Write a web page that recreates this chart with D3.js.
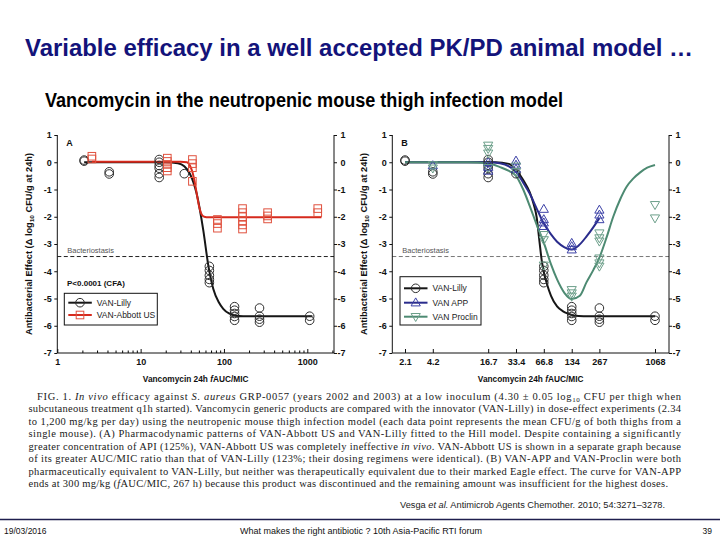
<!DOCTYPE html>
<html><head><meta charset="utf-8">
<script src="https://cdn.jsdelivr.net/npm/d3@7"></script>
<style>body{margin:0;background:#fff}svg{display:block}</style>
</head><body><svg id="c" width="720" height="540"></svg>
<script>
// ---------------- DATA ----------------
const titleText = "Variable efficacy in a well accepted PK/PD animal model …";
const subtitleText = "Vancomycin in the neutropenic  mouse thigh infection model";
const yTicks = [-7, -6, -5, -4, -3, -2, -1, 0, 1];
const xTicksA = [1, 10, 100, 1000];
const xMinorA = [2,3,4,5,6,7,8,9,20,30,40,50,60,70,80,90,200,300,400,500,600,700,800,900,2000];
const xTicksB = [2.1, 4.2, 16.7, 33.4, 66.8, 134, 267, 1068];
const xLabelsB = ["2.1", "4.2", "16.7", "33.4", "66.8", "134", "267", "1068"];
const bacteriostasis = -3.46;

// observed points [fAUC/MIC, effect]
const lillyPts = [[2.1,0.08],[2.1,0.04],[4.2,-0.35],[4.2,-0.43],[16.7,0.1],[16.7,0.0],[16.7,-0.12],[16.7,-0.22],[16.7,-0.42],[16.7,-0.56],[33.4,-0.42],[66.8,-3.82],[66.8,-3.97],[66.8,-4.15],[66.8,-4.3],[66.8,-4.42],[134,-5.3],[134,-5.43],[134,-5.55],[134,-5.66],[134,-5.8],[267,-5.35],[267,-5.65],[267,-5.76],[267,-5.87],[1068,-5.65],[1068,-5.8]];
const abbottPts = [[2.6,0.22],[2.6,0.12],[20.9,0.15],[20.9,0.03],[20.9,-0.08],[20.9,-0.2],[20.9,-0.32],[41.8,0.1],[41.8,-0.05],[41.8,-0.2],[41.8,-0.7],[83.5,-2.1],[83.5,-2.25],[83.5,-2.42],[167,-1.7],[167,-1.85],[167,-2.0],[167,-2.15],[167,-2.3],[167,-2.45],[334,-1.85],[334,-1.97],[334,-2.08],[1335,-1.7],[1335,-1.85]];
const appPts = [[4.2,-0.12],[16.7,0.0],[16.7,-0.18],[16.7,-0.32],[33.4,0.05],[33.4,-0.1],[33.4,-0.25],[66.8,-1.72],[66.8,-2.1],[66.8,-2.22],[66.8,-2.35],[134,-2.97],[134,-3.09],[134,-3.21],[267,-1.75],[267,-1.93],[267,-2.1]];
const proclinPts = [[4.2,-0.1],[4.2,-0.22],[16.7,0.62],[16.7,0.5],[16.7,0.33],[16.7,-0.2],[33.4,-0.15],[33.4,-0.35],[66.8,-2.66],[66.8,-2.85],[66.8,-3.78],[134,-4.68],[134,-4.8],[134,-4.92],[267,-2.6],[267,-2.78],[267,-2.9],[267,-3.52],[267,-3.7],[267,-3.82],[1068,-1.56],[1068,-2.05]];

// fitted curves
const lillyCurveA = [[2.1,0],[20,0],[28,-0.04],[33.4,-0.15],[39,-0.42],[47,-1.15],[56.5,-2.5],[65,-3.8],[74.5,-4.65],[87,-5.15],[98,-5.38],[115,-5.55],[134,-5.62],[170,-5.65],[1150,-5.65]];
const abbottCurve = [[2.6,0.02],[30,0.02],[36,0],[39,-0.12],[42,-0.38],[45,-0.8],[48,-1.3],[51,-1.7],[54,-1.92],[58,-2.0],[65,-2.02],[1480,-2.02]];
const lillyCurveB = [[2.1,0],[20,0],[28,-0.06],[33.4,-0.28],[40,-0.65],[47,-1.1],[52,-1.55],[55.8,-2.0],[59.5,-2.8],[63.3,-3.58],[67.5,-4.1],[71.7,-4.43],[80,-4.9],[93,-5.29],[108,-5.47],[121,-5.55],[140,-5.62],[180,-5.65],[1068,-5.65]];
const appCurve = [[2.1,0],[16.7,0],[22.4,-0.04],[28,-0.15],[33.4,-0.35],[40,-0.75],[47,-1.15],[56,-1.7],[66.8,-2.25],[80,-2.65],[93,-2.92],[112,-3.12],[134,-3.2],[160,-3.05],[194,-2.72],[230,-2.38],[267,-2.05]];
const proclinCurve = [[2.1,0],[10,0],[16.7,-0.04],[22.4,-0.18],[28,-0.32],[33.4,-0.5],[40,-1.0],[47,-1.6],[56,-2.3],[66.8,-2.95],[80,-3.75],[93,-4.3],[112,-4.8],[134,-5.02],[164,-4.9],[194,-4.4],[230,-3.95],[267,-3.5],[320,-2.75],[377,-2.0],[450,-1.35],[526,-0.9],[620,-0.6],[733,-0.38],[880,-0.2],[1068,-0.1]];

const captionLines = [
  [["FIG. 1. ",""],["In vivo","i"],[" efficacy against ",""],["S. aureus","i"],[" GRP-0057 (years 2002 and 2003) at a low inoculum (4.30 ± 0.05 log",""],["10","s"],[" CFU per thigh when",""]],
  [["subcutaneous treatment q1h started). Vancomycin generic products are compared with the innovator (VAN-Lilly) in dose-effect experiments (2.34",""]],
  [["to 1,200 mg/kg per day) using the neutropenic mouse thigh infection model (each data point represents the mean CFU/g of both thighs from a",""]],
  [["single mouse). (A) Pharmacodynamic patterns of VAN-Abbott US and VAN-Lilly fitted to the Hill model. Despite containing a significantly",""]],
  [["greater concentration of API (125%), VAN-Abbott US was completely ineffective ",""],["in vivo","i"],[". VAN-Abbott US is shown in a separate graph because",""]],
  [["of its greater AUC/MIC ratio than that of VAN-Lilly (123%; their dosing regimens were identical). (B) VAN-APP and VAN-Proclin were both",""]],
  [["pharmaceutically equivalent to VAN-Lilly, but neither was therapeutically equivalent due to their marked Eagle effect. The curve for VAN-APP",""]],
  [["ends at 300 mg/kg (",""],["f","i"],["AUC/MIC, 267 h) because this product was discontinued and the remaining amount was insufficient for the highest doses.",""]]
];

// ---------------- DRAW ----------------
const svg = d3.select("#c");
const SANS = "'Liberation Sans', Arial, Helvetica, sans-serif";
const SERIF = "'Liberation Serif', 'Times New Roman', serif";
const col = {lilly:"#161616", lillyM:"#2e2e2e", abbott:"#d62a1d", abbottM:"#e0523f", app:"#2a2c8c", appM:"#3b40a6", proclin:"#4d8a72", proclinM:"#6c9f8a"};

svg.append("text").attr("x",359).attr("y",56).attr("text-anchor","middle")
  .attr("textLength",668).attr("lengthAdjust","spacingAndGlyphs")
  .style("font","bold 24px " + SANS).attr("fill","#13137a").text(titleText);
svg.append("text").attr("x",45).attr("y",106.5)
  .attr("textLength",518).attr("lengthAdjust","spacingAndGlyphs")
  .style("font","bold 20px 'Liberation Sans Narrow', 'Arial Narrow', " + SANS).attr("fill","#000").text(subtitleText);

const y = d3.scaleLinear().domain([-7,1]).range([353,135]);

function marker(sel, type, color) {
  if (type === "circle") {
    sel.append("circle").attr("r",4.3).attr("fill","none").attr("stroke",color).attr("stroke-width",1);
  } else if (type === "square") {
    sel.append("rect").attr("x",-3.8).attr("y",-3.8).attr("width",7.6).attr("height",7.6).attr("fill","none").attr("stroke",color).attr("stroke-width",1);
  } else if (type === "up") {
    sel.append("path").attr("d","M0,-4.8L4.6,3.2L-4.6,3.2Z").attr("fill","none").attr("stroke",color).attr("stroke-width",1);
  } else {
    sel.append("path").attr("d","M0,4.8L4.6,-3.2L-4.6,-3.2Z").attr("fill","none").attr("stroke",color).attr("stroke-width",1);
  }
}

function panel(o) {
  const g = svg.append("g");
  const x = o.x;
  // bacteriostasis line
  g.append("line").attr("x1",o.left).attr("x2",o.right).attr("y1",y(bacteriostasis)).attr("y2",y(bacteriostasis))
    .attr("stroke",o.dash).attr("stroke-width",1).attr("stroke-dasharray","4,2.5");
  g.append("text").attr("x",o.left+10).attr("y",y(bacteriostasis)-3.5).attr("fill","#555")
    .style("font","7.5px " + SANS).text("Bacteriostasis");
  // axes
  const fmt = d => String(d);
  const ax = g.append("g").attr("transform",`translate(${o.left},0)`)
    .call(d3.axisLeft(y).tickValues(yTicks).tickSize(3).tickSizeOuter(0).tickPadding(2.5).tickFormat(fmt));
  const axr = g.append("g").attr("transform",`translate(${o.right},0)`)
    .call(d3.axisRight(y).tickValues(yTicks).tickSize(3).tickSizeOuter(0).tickPadding(2.5).tickFormat(fmt));
  axr.selectAll("text").attr("text-anchor","end").attr("x",11.5);
  const bx = g.append("g").attr("transform","translate(0,353)")
    .call(d3.axisBottom(x).tickValues(o.xTicks).tickSizeInner(-4).tickSizeOuter(0).tickPadding(6).tickFormat((d,i)=>o.xLabels[i]));
  if (o.minor) {
    g.append("g").attr("transform","translate(0,353)")
      .call(d3.axisBottom(x).tickValues(o.minor).tickSizeInner(-2.5).tickSizeOuter(0).tickFormat(""))
      .select(".domain").remove();
  }
  [ax, axr, bx].forEach(a => {
    a.select(".domain").remove();
    a.selectAll("line").attr("stroke","#111");
    a.selectAll("text").attr("fill","#111").style("font","bold 9px " + SANS);
  });
  g.append("path").attr("d",`M${o.left},135V353H${o.right}V135`).attr("fill","none").attr("stroke","#111").attr("stroke-width",1);
  // axis titles
  const yt = g.append("text").attr("transform",`translate(${o.ytx},244) rotate(-90)`).attr("text-anchor","middle")
    .attr("textLength",182).attr("lengthAdjust","spacingAndGlyphs")
    .style("font","bold 8.5px " + SANS).attr("fill","#111");
  yt.append("tspan").text("Antibacterial Effect (Δ log");
  yt.append("tspan").attr("dy",2).style("font-size","6px").text("10");
  yt.append("tspan").attr("dy",-2).text(" CFU/g at 24h)");
  const xt = g.append("text").attr("x",(o.left+o.right)/2).attr("y",382).attr("text-anchor","middle")
    .style("font","bold 8.3px " + SANS).attr("fill","#111");
  xt.append("tspan").text("Vancomycin 24h ");
  xt.append("tspan").style("font-style","italic").text("f");
  xt.append("tspan").text("AUC/MIC");
  // panel letter
  g.append("text").attr("x",o.left+9).attr("y",145.5).style("font","bold 9px " + SANS).attr("fill","#111").text(o.letter);
  // curves
  const line = d3.line().x(d => x(d[0])).y(d => y(d[1])).curve(d3.curveMonotoneX);
  o.series.forEach(s => {
    g.append("path").attr("d",line(s.curve)).attr("fill","none").attr("stroke",s.lc).attr("stroke-width",2);
  });
  o.series.forEach(s => {
    g.selectAll(null).data(s.pts).enter().append("g")
      .attr("transform",d => `translate(${x(d[0])},${y(d[1])})`)
      .each(function(){ marker(d3.select(this), s.m, s.mc); });
  });
  // legend
  const L = o.legend;
  g.append("rect").attr("x",L.x).attr("y",L.y).attr("width",L.w).attr("height",L.h)
    .attr("fill","#fff").attr("stroke","#111").attr("stroke-width",1);
  o.series.forEach((s,i) => {
    const yy = L.rows[i];
    g.append("line").attr("x1",L.x+4).attr("x2",L.x+27.5).attr("y1",yy).attr("y2",yy).attr("stroke",s.lc).attr("stroke-width",2);
    const mg = g.append("g").attr("transform",`translate(${L.x+15.7},${yy})`);
    marker(mg, s.m, s.mc);
    g.append("text").attr("x",L.x+32.5).attr("y",yy+3).style("font","8.5px " + SANS).attr("fill","#222").text(s.name);
  });
  return g;
}

const xA = d3.scaleLog().domain([1,1000]).range([57.3,307.3]);
const gA = panel({
  x: xA, left: 57.3, right: 334, ytx: 32, letter: "A", dash: "#222",
  xTicks: xTicksA, xLabels: xTicksA.map(String), minor: xMinorA,
  legend: {x:64.3, y:293.3, w:93, h:31.7, rows:[302.7, 315]},
  series: [
    {name:"VAN-Lilly", curve: lillyCurveA, pts: lillyPts, lc: col.lilly, mc: col.lillyM, m:"circle"},
    {name:"VAN-Abbott US", curve: abbottCurve, pts: abbottPts, lc: col.abbott, mc: col.abbottM, m:"square"}
  ]
});
gA.append("text").attr("x",67).attr("y",285.5).style("font","bold 8px " + SANS).attr("fill","#111").text("P<0.0001 (CFA)");

const xB = d3.scaleLog().domain([2.1,1068]).range([405,655]);
panel({
  x: xB, left: 392.3, right: 669, ytx: 367, letter: "B", dash: "#777",
  xTicks: xTicksB, xLabels: xLabelsB, minor: null,
  legend: {x:400, y:276.7, w:81, h:48.3, rows:[288.3, 302.7, 316.7]},
  series: [
    {name:"VAN-Lilly", curve: lillyCurveB, pts: lillyPts, lc: col.lilly, mc: col.lillyM, m:"circle"},
    {name:"VAN APP", curve: appCurve, pts: appPts, lc: col.app, mc: col.appM, m:"up"},
    {name:"VAN Proclin", curve: proclinCurve, pts: proclinPts, lc: col.proclin, mc: col.proclinM, m:"down"}
  ]
});

// caption
captionLines.forEach((parts, i) => {
  const x0 = i === 0 ? 37 : 28.5;
  const t = svg.append("text").attr("x",x0).attr("y",399.5 + i*12.57)
    .style("font","10.5px " + SERIF).attr("fill","#1a1a1a");
  if (i < captionLines.length - 1) t.attr("textLength",681 - x0).attr("lengthAdjust","spacing");
  else t.attr("textLength",668 - x0).attr("lengthAdjust","spacing");
  parts.forEach(([s, k]) => {
    const sp = t.append("tspan").text(s);
    if (k === "i") sp.style("font-style","italic");
    if (k === "s") { sp.attr("dy",2).style("font-size","7px"); }
  });
  if (i === 0) {
    // restore baseline after subscript
    t.selectAll("tspan").filter((d,j,n)=> j === n.length-1).attr("dy",-2);
  }
});

// citation
const cit = svg.append("text").attr("x",400).attr("y",508).attr("textLength",265).attr("lengthAdjust","spacingAndGlyphs")
  .style("font","8.5px " + SANS).attr("fill","#222");
cit.append("tspan").text("Vesga ");
cit.append("tspan").style("font-style","italic").text("et al.");
cit.append("tspan").text(" Antimicrob Agents Chemother. 2010; 54:3271–3278.");

// footer
svg.append("line").attr("x1",0).attr("x2",720).attr("y1",519.5).attr("y2",519.5).attr("stroke","#1e1e4e").attr("stroke-width",1.5);
svg.append("text").attr("x",4).attr("y",534).style("font","8.5px " + SANS).attr("fill","#111").text("19/03/2016");
svg.append("text").attr("x",361).attr("y",534).attr("text-anchor","middle").attr("textLength",242).attr("lengthAdjust","spacingAndGlyphs")
  .style("font","8.5px " + SANS).attr("fill","#111").text("What makes the right antibiotic ? 10th Asia-Pacific RTI forum");
svg.append("text").attr("x",712).attr("y",534).attr("text-anchor","end").style("font","8.5px " + SANS).attr("fill","#111").text("39");
</script></body></html>
